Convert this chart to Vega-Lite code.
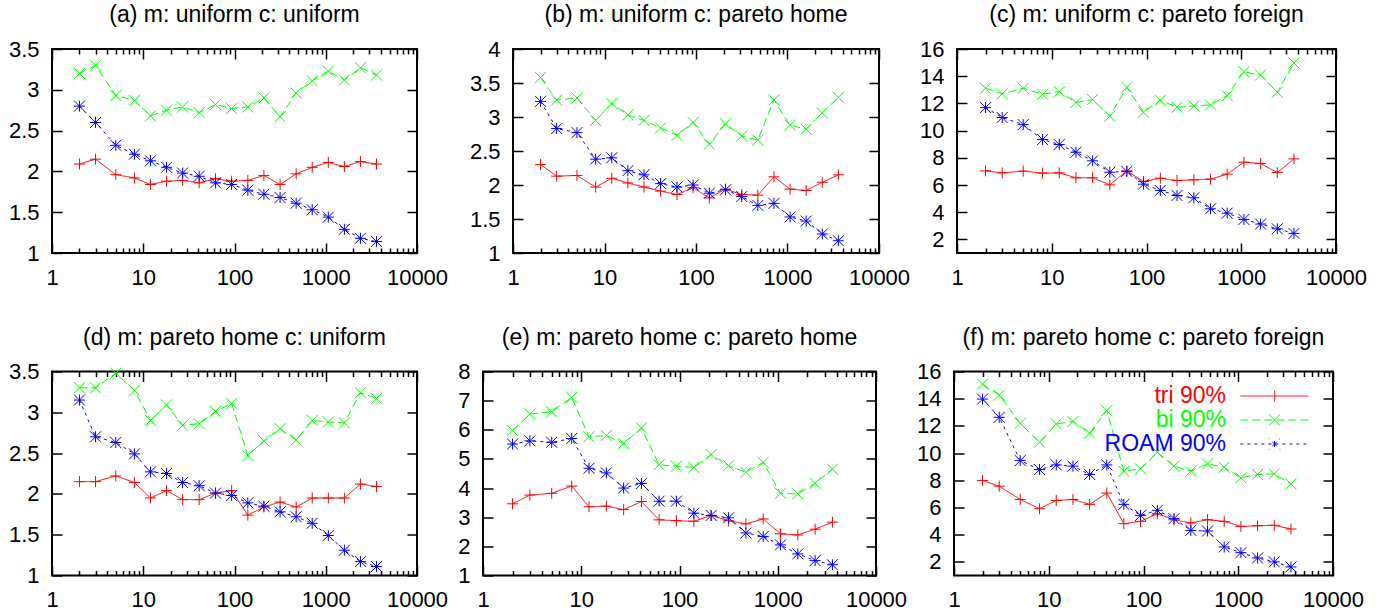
{
"$schema": "https://vega.github.io/schema/vega-lite/v6.json",
"padding": {"left": 7, "top": 3, "right": 5, "bottom": 5},
"background": "#ffffff",
"datasets": {"pts": [
{"panel":"a","series":"tri 90%","n":2,"v":2.09},{"panel":"a","series":"tri 90%","n":3,"v":2.15},{"panel":"a","series":"tri 90%","n":5,"v":1.96},{"panel":"a","series":"tri 90%","n":8,"v":1.92},{"panel":"a","series":"tri 90%","n":12,"v":1.84},{"panel":"a","series":"tri 90%","n":18,"v":1.88},{"panel":"a","series":"tri 90%","n":27,"v":1.89},{"panel":"a","series":"tri 90%","n":41,"v":1.86},{"panel":"a","series":"tri 90%","n":62,"v":1.91},{"panel":"a","series":"tri 90%","n":93,"v":1.88},{"panel":"a","series":"tri 90%","n":140,"v":1.89},{"panel":"a","series":"tri 90%","n":210,"v":1.95},{"panel":"a","series":"tri 90%","n":316,"v":1.84},{"panel":"a","series":"tri 90%","n":474,"v":1.97},{"panel":"a","series":"tri 90%","n":711,"v":2.05},{"panel":"a","series":"tri 90%","n":1067,"v":2.11},{"panel":"a","series":"tri 90%","n":1600,"v":2.06},{"panel":"a","series":"tri 90%","n":2400,"v":2.12},{"panel":"a","series":"tri 90%","n":3600,"v":2.09},
{"panel":"a","series":"bi 90%","n":2,"v":3.20},{"panel":"a","series":"bi 90%","n":3,"v":3.30},{"panel":"a","series":"bi 90%","n":5,"v":2.93},{"panel":"a","series":"bi 90%","n":8,"v":2.87},{"panel":"a","series":"bi 90%","n":12,"v":2.68},{"panel":"a","series":"bi 90%","n":18,"v":2.75},{"panel":"a","series":"bi 90%","n":27,"v":2.79},{"panel":"a","series":"bi 90%","n":41,"v":2.72},{"panel":"a","series":"bi 90%","n":62,"v":2.82},{"panel":"a","series":"bi 90%","n":93,"v":2.77},{"panel":"a","series":"bi 90%","n":140,"v":2.79},{"panel":"a","series":"bi 90%","n":210,"v":2.90},{"panel":"a","series":"bi 90%","n":316,"v":2.67},{"panel":"a","series":"bi 90%","n":474,"v":2.96},{"panel":"a","series":"bi 90%","n":711,"v":3.11},{"panel":"a","series":"bi 90%","n":1067,"v":3.23},{"panel":"a","series":"bi 90%","n":1600,"v":3.12},{"panel":"a","series":"bi 90%","n":2400,"v":3.27},{"panel":"a","series":"bi 90%","n":3600,"v":3.18},
{"panel":"a","series":"ROAM 90%","n":2,"v":2.80},{"panel":"a","series":"ROAM 90%","n":3,"v":2.60},{"panel":"a","series":"ROAM 90%","n":5,"v":2.32},{"panel":"a","series":"ROAM 90%","n":8,"v":2.21},{"panel":"a","series":"ROAM 90%","n":12,"v":2.13},{"panel":"a","series":"ROAM 90%","n":18,"v":2.05},{"panel":"a","series":"ROAM 90%","n":27,"v":1.98},{"panel":"a","series":"ROAM 90%","n":41,"v":1.94},{"panel":"a","series":"ROAM 90%","n":62,"v":1.86},{"panel":"a","series":"ROAM 90%","n":93,"v":1.84},{"panel":"a","series":"ROAM 90%","n":140,"v":1.77},{"panel":"a","series":"ROAM 90%","n":210,"v":1.72},{"panel":"a","series":"ROAM 90%","n":316,"v":1.68},{"panel":"a","series":"ROAM 90%","n":474,"v":1.61},{"panel":"a","series":"ROAM 90%","n":711,"v":1.53},{"panel":"a","series":"ROAM 90%","n":1067,"v":1.44},{"panel":"a","series":"ROAM 90%","n":1600,"v":1.29},{"panel":"a","series":"ROAM 90%","n":2400,"v":1.18},{"panel":"a","series":"ROAM 90%","n":3600,"v":1.14},
{"panel":"b","series":"tri 90%","n":2,"v":2.30},{"panel":"b","series":"tri 90%","n":3,"v":2.13},{"panel":"b","series":"tri 90%","n":5,"v":2.14},{"panel":"b","series":"tri 90%","n":8,"v":1.97},{"panel":"b","series":"tri 90%","n":12,"v":2.10},{"panel":"b","series":"tri 90%","n":18,"v":2.03},{"panel":"b","series":"tri 90%","n":27,"v":1.97},{"panel":"b","series":"tri 90%","n":41,"v":1.91},{"panel":"b","series":"tri 90%","n":62,"v":1.86},{"panel":"b","series":"tri 90%","n":93,"v":1.96},{"panel":"b","series":"tri 90%","n":140,"v":1.81},{"panel":"b","series":"tri 90%","n":210,"v":1.94},{"panel":"b","series":"tri 90%","n":316,"v":1.86},{"panel":"b","series":"tri 90%","n":474,"v":1.85},{"panel":"b","series":"tri 90%","n":711,"v":2.12},{"panel":"b","series":"tri 90%","n":1067,"v":1.94},{"panel":"b","series":"tri 90%","n":1600,"v":1.92},{"panel":"b","series":"tri 90%","n":2400,"v":2.04},{"panel":"b","series":"tri 90%","n":3600,"v":2.15},
{"panel":"b","series":"bi 90%","n":2,"v":3.58},{"panel":"b","series":"bi 90%","n":3,"v":3.25},{"panel":"b","series":"bi 90%","n":5,"v":3.28},{"panel":"b","series":"bi 90%","n":8,"v":2.95},{"panel":"b","series":"bi 90%","n":12,"v":3.20},{"panel":"b","series":"bi 90%","n":18,"v":3.03},{"panel":"b","series":"bi 90%","n":27,"v":2.95},{"panel":"b","series":"bi 90%","n":41,"v":2.84},{"panel":"b","series":"bi 90%","n":62,"v":2.73},{"panel":"b","series":"bi 90%","n":93,"v":2.92},{"panel":"b","series":"bi 90%","n":140,"v":2.60},{"panel":"b","series":"bi 90%","n":210,"v":2.90},{"panel":"b","series":"bi 90%","n":316,"v":2.72},{"panel":"b","series":"bi 90%","n":474,"v":2.66},{"panel":"b","series":"bi 90%","n":711,"v":3.25},{"panel":"b","series":"bi 90%","n":1067,"v":2.88},{"panel":"b","series":"bi 90%","n":1600,"v":2.82},{"panel":"b","series":"bi 90%","n":2400,"v":3.06},{"panel":"b","series":"bi 90%","n":3600,"v":3.29},
{"panel":"b","series":"ROAM 90%","n":2,"v":3.23},{"panel":"b","series":"ROAM 90%","n":3,"v":2.83},{"panel":"b","series":"ROAM 90%","n":5,"v":2.77},{"panel":"b","series":"ROAM 90%","n":8,"v":2.38},{"panel":"b","series":"ROAM 90%","n":12,"v":2.40},{"panel":"b","series":"ROAM 90%","n":18,"v":2.21},{"panel":"b","series":"ROAM 90%","n":27,"v":2.15},{"panel":"b","series":"ROAM 90%","n":41,"v":2.02},{"panel":"b","series":"ROAM 90%","n":62,"v":1.97},{"panel":"b","series":"ROAM 90%","n":93,"v":2.00},{"panel":"b","series":"ROAM 90%","n":140,"v":1.88},{"panel":"b","series":"ROAM 90%","n":210,"v":1.93},{"panel":"b","series":"ROAM 90%","n":316,"v":1.83},{"panel":"b","series":"ROAM 90%","n":474,"v":1.70},{"panel":"b","series":"ROAM 90%","n":711,"v":1.73},{"panel":"b","series":"ROAM 90%","n":1067,"v":1.53},{"panel":"b","series":"ROAM 90%","n":1600,"v":1.47},{"panel":"b","series":"ROAM 90%","n":2400,"v":1.28},{"panel":"b","series":"ROAM 90%","n":3600,"v":1.18},
{"panel":"c","series":"tri 90%","n":2,"v":7.04},{"panel":"c","series":"tri 90%","n":3,"v":6.89},{"panel":"c","series":"tri 90%","n":5,"v":7.02},{"panel":"c","series":"tri 90%","n":8,"v":6.87},{"panel":"c","series":"tri 90%","n":12,"v":6.89},{"panel":"c","series":"tri 90%","n":18,"v":6.53},{"panel":"c","series":"tri 90%","n":27,"v":6.53},{"panel":"c","series":"tri 90%","n":41,"v":6.01},{"panel":"c","series":"tri 90%","n":62,"v":7.04},{"panel":"c","series":"tri 90%","n":93,"v":6.26},{"panel":"c","series":"tri 90%","n":140,"v":6.50},{"panel":"c","series":"tri 90%","n":210,"v":6.33},{"panel":"c","series":"tri 90%","n":316,"v":6.38},{"panel":"c","series":"tri 90%","n":474,"v":6.43},{"panel":"c","series":"tri 90%","n":711,"v":6.80},{"panel":"c","series":"tri 90%","n":1067,"v":7.68},{"panel":"c","series":"tri 90%","n":1600,"v":7.58},{"panel":"c","series":"tri 90%","n":2400,"v":6.92},{"panel":"c","series":"tri 90%","n":3600,"v":7.92},
{"panel":"c","series":"bi 90%","n":2,"v":13.11},{"panel":"c","series":"bi 90%","n":3,"v":12.70},{"panel":"c","series":"bi 90%","n":5,"v":13.11},{"panel":"c","series":"bi 90%","n":8,"v":12.67},{"panel":"c","series":"bi 90%","n":12,"v":12.87},{"panel":"c","series":"bi 90%","n":18,"v":12.06},{"panel":"c","series":"bi 90%","n":27,"v":12.28},{"panel":"c","series":"bi 90%","n":41,"v":11.06},{"panel":"c","series":"bi 90%","n":62,"v":13.18},{"panel":"c","series":"bi 90%","n":93,"v":11.35},{"panel":"c","series":"bi 90%","n":140,"v":12.23},{"panel":"c","series":"bi 90%","n":210,"v":11.72},{"panel":"c","series":"bi 90%","n":316,"v":11.81},{"panel":"c","series":"bi 90%","n":474,"v":11.89},{"panel":"c","series":"bi 90%","n":711,"v":12.57},{"panel":"c","series":"bi 90%","n":1067,"v":14.33},{"panel":"c","series":"bi 90%","n":1600,"v":14.09},{"panel":"c","series":"bi 90%","n":2400,"v":12.82},{"panel":"c","series":"bi 90%","n":3600,"v":14.97},
{"panel":"c","series":"ROAM 90%","n":2,"v":11.69},{"panel":"c","series":"ROAM 90%","n":3,"v":10.96},{"panel":"c","series":"ROAM 90%","n":5,"v":10.44},{"panel":"c","series":"ROAM 90%","n":8,"v":9.34},{"panel":"c","series":"ROAM 90%","n":12,"v":8.98},{"panel":"c","series":"ROAM 90%","n":18,"v":8.41},{"panel":"c","series":"ROAM 90%","n":27,"v":7.78},{"panel":"c","series":"ROAM 90%","n":41,"v":6.94},{"panel":"c","series":"ROAM 90%","n":62,"v":7.00},{"panel":"c","series":"ROAM 90%","n":93,"v":6.06},{"panel":"c","series":"ROAM 90%","n":140,"v":5.60},{"panel":"c","series":"ROAM 90%","n":210,"v":5.23},{"panel":"c","series":"ROAM 90%","n":316,"v":5.06},{"panel":"c","series":"ROAM 90%","n":474,"v":4.25},{"panel":"c","series":"ROAM 90%","n":711,"v":3.93},{"panel":"c","series":"ROAM 90%","n":1067,"v":3.47},{"panel":"c","series":"ROAM 90%","n":1600,"v":3.13},{"panel":"c","series":"ROAM 90%","n":2400,"v":2.78},{"panel":"c","series":"ROAM 90%","n":3600,"v":2.44},
{"panel":"d","series":"tri 90%","n":2,"v":2.15},{"panel":"d","series":"tri 90%","n":3,"v":2.15},{"panel":"d","series":"tri 90%","n":5,"v":2.22},{"panel":"d","series":"tri 90%","n":8,"v":2.14},{"panel":"d","series":"tri 90%","n":12,"v":1.95},{"panel":"d","series":"tri 90%","n":18,"v":2.04},{"panel":"d","series":"tri 90%","n":27,"v":1.93},{"panel":"d","series":"tri 90%","n":41,"v":1.93},{"panel":"d","series":"tri 90%","n":62,"v":2.01},{"panel":"d","series":"tri 90%","n":93,"v":2.04},{"panel":"d","series":"tri 90%","n":140,"v":1.74},{"panel":"d","series":"tri 90%","n":210,"v":1.84},{"panel":"d","series":"tri 90%","n":316,"v":1.90},{"panel":"d","series":"tri 90%","n":474,"v":1.84},{"panel":"d","series":"tri 90%","n":711,"v":1.95},{"panel":"d","series":"tri 90%","n":1067,"v":1.95},{"panel":"d","series":"tri 90%","n":1600,"v":1.95},{"panel":"d","series":"tri 90%","n":2400,"v":2.12},{"panel":"d","series":"tri 90%","n":3600,"v":2.09},
{"panel":"d","series":"bi 90%","n":2,"v":3.30},{"panel":"d","series":"bi 90%","n":3,"v":3.30},{"panel":"d","series":"bi 90%","n":5,"v":3.48},{"panel":"d","series":"bi 90%","n":8,"v":3.27},{"panel":"d","series":"bi 90%","n":12,"v":2.90},{"panel":"d","series":"bi 90%","n":18,"v":3.09},{"panel":"d","series":"bi 90%","n":27,"v":2.84},{"panel":"d","series":"bi 90%","n":41,"v":2.86},{"panel":"d","series":"bi 90%","n":62,"v":3.01},{"panel":"d","series":"bi 90%","n":93,"v":3.11},{"panel":"d","series":"bi 90%","n":140,"v":2.47},{"panel":"d","series":"bi 90%","n":210,"v":2.65},{"panel":"d","series":"bi 90%","n":316,"v":2.80},{"panel":"d","series":"bi 90%","n":474,"v":2.66},{"panel":"d","series":"bi 90%","n":711,"v":2.90},{"panel":"d","series":"bi 90%","n":1067,"v":2.88},{"panel":"d","series":"bi 90%","n":1600,"v":2.87},{"panel":"d","series":"bi 90%","n":2400,"v":3.24},{"panel":"d","series":"bi 90%","n":3600,"v":3.17},
{"panel":"d","series":"ROAM 90%","n":2,"v":3.15},{"panel":"d","series":"ROAM 90%","n":3,"v":2.70},{"panel":"d","series":"ROAM 90%","n":5,"v":2.63},{"panel":"d","series":"ROAM 90%","n":8,"v":2.49},{"panel":"d","series":"ROAM 90%","n":12,"v":2.27},{"panel":"d","series":"ROAM 90%","n":18,"v":2.25},{"panel":"d","series":"ROAM 90%","n":27,"v":2.14},{"panel":"d","series":"ROAM 90%","n":41,"v":2.10},{"panel":"d","series":"ROAM 90%","n":62,"v":2.01},{"panel":"d","series":"ROAM 90%","n":93,"v":1.98},{"panel":"d","series":"ROAM 90%","n":140,"v":1.89},{"panel":"d","series":"ROAM 90%","n":210,"v":1.85},{"panel":"d","series":"ROAM 90%","n":316,"v":1.78},{"panel":"d","series":"ROAM 90%","n":474,"v":1.72},{"panel":"d","series":"ROAM 90%","n":711,"v":1.64},{"panel":"d","series":"ROAM 90%","n":1067,"v":1.49},{"panel":"d","series":"ROAM 90%","n":1600,"v":1.31},{"panel":"d","series":"ROAM 90%","n":2400,"v":1.17},{"panel":"d","series":"ROAM 90%","n":3600,"v":1.11},
{"panel":"e","series":"tri 90%","n":2,"v":3.46},{"panel":"e","series":"tri 90%","n":3,"v":3.76},{"panel":"e","series":"tri 90%","n":5,"v":3.82},{"panel":"e","series":"tri 90%","n":8,"v":4.07},{"panel":"e","series":"tri 90%","n":12,"v":3.36},{"panel":"e","series":"tri 90%","n":18,"v":3.38},{"panel":"e","series":"tri 90%","n":27,"v":3.26},{"panel":"e","series":"tri 90%","n":41,"v":3.54},{"panel":"e","series":"tri 90%","n":62,"v":2.91},{"panel":"e","series":"tri 90%","n":93,"v":2.88},{"panel":"e","series":"tri 90%","n":140,"v":2.86},{"panel":"e","series":"tri 90%","n":210,"v":3.06},{"panel":"e","series":"tri 90%","n":316,"v":2.88},{"panel":"e","series":"tri 90%","n":474,"v":2.77},{"panel":"e","series":"tri 90%","n":711,"v":2.94},{"panel":"e","series":"tri 90%","n":1067,"v":2.43},{"panel":"e","series":"tri 90%","n":1600,"v":2.39},{"panel":"e","series":"tri 90%","n":2400,"v":2.59},{"panel":"e","series":"tri 90%","n":3600,"v":2.83},
{"panel":"e","series":"bi 90%","n":2,"v":5.97},{"panel":"e","series":"bi 90%","n":3,"v":6.54},{"panel":"e","series":"bi 90%","n":5,"v":6.62},{"panel":"e","series":"bi 90%","n":8,"v":7.11},{"panel":"e","series":"bi 90%","n":12,"v":5.76},{"panel":"e","series":"bi 90%","n":18,"v":5.80},{"panel":"e","series":"bi 90%","n":27,"v":5.53},{"panel":"e","series":"bi 90%","n":41,"v":6.06},{"panel":"e","series":"bi 90%","n":62,"v":4.80},{"panel":"e","series":"bi 90%","n":93,"v":4.75},{"panel":"e","series":"bi 90%","n":140,"v":4.71},{"panel":"e","series":"bi 90%","n":210,"v":5.15},{"panel":"e","series":"bi 90%","n":316,"v":4.77},{"panel":"e","series":"bi 90%","n":474,"v":4.54},{"panel":"e","series":"bi 90%","n":711,"v":4.88},{"panel":"e","series":"bi 90%","n":1067,"v":3.82},{"panel":"e","series":"bi 90%","n":1600,"v":3.80},{"panel":"e","series":"bi 90%","n":2400,"v":4.16},{"panel":"e","series":"bi 90%","n":3600,"v":4.65},
{"panel":"e","series":"ROAM 90%","n":2,"v":5.51},{"panel":"e","series":"ROAM 90%","n":3,"v":5.62},{"panel":"e","series":"ROAM 90%","n":5,"v":5.57},{"panel":"e","series":"ROAM 90%","n":8,"v":5.70},{"panel":"e","series":"ROAM 90%","n":12,"v":4.68},{"panel":"e","series":"ROAM 90%","n":18,"v":4.52},{"panel":"e","series":"ROAM 90%","n":27,"v":4.00},{"panel":"e","series":"ROAM 90%","n":41,"v":4.16},{"panel":"e","series":"ROAM 90%","n":62,"v":3.55},{"panel":"e","series":"ROAM 90%","n":93,"v":3.55},{"panel":"e","series":"ROAM 90%","n":140,"v":3.14},{"panel":"e","series":"ROAM 90%","n":210,"v":3.06},{"panel":"e","series":"ROAM 90%","n":316,"v":2.98},{"panel":"e","series":"ROAM 90%","n":474,"v":2.46},{"panel":"e","series":"ROAM 90%","n":711,"v":2.34},{"panel":"e","series":"ROAM 90%","n":1067,"v":2.05},{"panel":"e","series":"ROAM 90%","n":1600,"v":1.74},{"panel":"e","series":"ROAM 90%","n":2400,"v":1.51},{"panel":"e","series":"ROAM 90%","n":3600,"v":1.37},
{"panel":"f","series":"tri 90%","n":2,"v":7.99},{"panel":"f","series":"tri 90%","n":3,"v":7.57},{"panel":"f","series":"tri 90%","n":5,"v":6.59},{"panel":"f","series":"tri 90%","n":8,"v":5.91},{"panel":"f","series":"tri 90%","n":12,"v":6.52},{"panel":"f","series":"tri 90%","n":18,"v":6.59},{"panel":"f","series":"tri 90%","n":27,"v":6.23},{"panel":"f","series":"tri 90%","n":41,"v":7.06},{"panel":"f","series":"tri 90%","n":62,"v":4.81},{"panel":"f","series":"tri 90%","n":93,"v":4.98},{"panel":"f","series":"tri 90%","n":140,"v":5.54},{"panel":"f","series":"tri 90%","n":210,"v":5.10},{"panel":"f","series":"tri 90%","n":316,"v":4.86},{"panel":"f","series":"tri 90%","n":474,"v":5.10},{"panel":"f","series":"tri 90%","n":711,"v":4.98},{"panel":"f","series":"tri 90%","n":1067,"v":4.61},{"panel":"f","series":"tri 90%","n":1600,"v":4.66},{"panel":"f","series":"tri 90%","n":2400,"v":4.69},{"panel":"f","series":"tri 90%","n":3600,"v":4.42},
{"panel":"f","series":"bi 90%","n":2,"v":15.07},{"panel":"f","series":"bi 90%","n":3,"v":14.26},{"panel":"f","series":"bi 90%","n":5,"v":12.19},{"panel":"f","series":"bi 90%","n":8,"v":10.80},{"panel":"f","series":"bi 90%","n":12,"v":12.14},{"panel":"f","series":"bi 90%","n":18,"v":12.33},{"panel":"f","series":"bi 90%","n":27,"v":11.46},{"panel":"f","series":"bi 90%","n":41,"v":13.12},{"panel":"f","series":"bi 90%","n":62,"v":8.67},{"panel":"f","series":"bi 90%","n":93,"v":8.84},{"panel":"f","series":"bi 90%","n":140,"v":10.06},{"panel":"f","series":"bi 90%","n":210,"v":9.04},{"panel":"f","series":"bi 90%","n":316,"v":8.67},{"panel":"f","series":"bi 90%","n":474,"v":9.21},{"panel":"f","series":"bi 90%","n":711,"v":8.96},{"panel":"f","series":"bi 90%","n":1067,"v":8.18},{"panel":"f","series":"bi 90%","n":1600,"v":8.43},{"panel":"f","series":"bi 90%","n":2400,"v":8.47},{"panel":"f","series":"bi 90%","n":3600,"v":7.74},
{"panel":"f","series":"ROAM 90%","n":2,"v":13.97},{"panel":"f","series":"ROAM 90%","n":3,"v":12.63},{"panel":"f","series":"ROAM 90%","n":5,"v":9.45},{"panel":"f","series":"ROAM 90%","n":8,"v":8.79},{"panel":"f","series":"ROAM 90%","n":12,"v":9.13},{"panel":"f","series":"ROAM 90%","n":18,"v":9.04},{"panel":"f","series":"ROAM 90%","n":27,"v":8.43},{"panel":"f","series":"ROAM 90%","n":41,"v":9.13},{"panel":"f","series":"ROAM 90%","n":62,"v":6.23},{"panel":"f","series":"ROAM 90%","n":93,"v":5.42},{"panel":"f","series":"ROAM 90%","n":140,"v":5.79},{"panel":"f","series":"ROAM 90%","n":210,"v":5.18},{"panel":"f","series":"ROAM 90%","n":316,"v":4.32},{"panel":"f","series":"ROAM 90%","n":474,"v":4.27},{"panel":"f","series":"ROAM 90%","n":711,"v":3.10},{"panel":"f","series":"ROAM 90%","n":1067,"v":2.68},{"panel":"f","series":"ROAM 90%","n":1600,"v":2.29},{"panel":"f","series":"ROAM 90%","n":2400,"v":2.00},{"panel":"f","series":"ROAM 90%","n":3600,"v":1.63}
]},
"data": {"name": "pts"},
"spacing": 31.5,
"resolve": {"scale": {"color": "independent"}},
"vconcat": [
{"hconcat": [
{"title": "(a) m: uniform c: uniform", "width": 365, "height": 204,
 "transform": [{"filter": "datum.panel === 'a'"}],
 "layer": [
  {"mark": {"type": "line", "strokeWidth": 1},
   "encoding": {
    "x": {"field": "n", "type": "quantitative", "scale": {"type": "log", "domain": [1, 10000], "nice": false}, "axis": {"orient": "bottom", "title": null, "values": [1,2,3,4,5,6,7,8,9,10,20,30,40,50,60,70,80,90,100,200,300,400,500,600,700,800,900,1000,2000,3000,4000,5000,6000,7000,8000,9000,10000], "tickSize": {"condition": {"test": "datum.value==1||datum.value==10||datum.value==100||datum.value==1000||datum.value==10000", "value": -10}, "value": -5}, "labelExpr": "(datum.value==1||datum.value==10||datum.value==100||datum.value==1000||datum.value==10000) ? format(datum.value, 'd') : ''", "labelPadding": 24}},
    "y": {"field": "v", "type": "quantitative", "scale": {"domain": [1, 3.5], "nice": false, "zero": false}, "axis": {"orient": "left", "title": null, "values": [1,1.5,2,2.5,3,3.5], "tickSize": -10, "labelPadding": 23, "format": "~g"}},
    "color": {"field": "series", "type": "nominal", "scale": {"domain": ["tri 90%", "bi 90%", "ROAM 90%"], "range": ["#ff0000", "#00ff00", "#0000ff"]}, "legend": null},
    "strokeDash": {"field": "series", "type": "nominal", "scale": {"domain": ["tri 90%", "bi 90%", "ROAM 90%"], "range": [[1,0],[8,4],[3,4]]}, "legend": null}
   }},
  {"mark": {"type": "point", "filled": false, "size": 121, "strokeWidth": 1, "opacity": 1},
   "encoding": {
    "x": {"field": "n", "type": "quantitative", "scale": {"type": "log", "domain": [1, 10000], "nice": false}, "axis": {"orient": "top", "title": null, "labels": false, "values": [1,2,3,4,5,6,7,8,9,10,20,30,40,50,60,70,80,90,100,200,300,400,500,600,700,800,900,1000,2000,3000,4000,5000,6000,7000,8000,9000,10000], "tickSize": {"condition": {"test": "datum.value==1||datum.value==10||datum.value==100||datum.value==1000||datum.value==10000", "value": -10}, "value": -5}}},
    "y": {"field": "v", "type": "quantitative", "scale": {"domain": [1, 3.5], "nice": false, "zero": false}, "axis": {"orient": "right", "title": null, "labels": false, "values": [1,1.5,2,2.5,3,3.5], "tickSize": -10}},
    "color": {"field": "series", "type": "nominal", "scale": {"domain": ["tri 90%", "bi 90%", "ROAM 90%"], "range": ["#ff0000", "#00ff00", "#0000ff"]}, "legend": null},
    "shape": {"field": "series", "type": "nominal", "scale": {"domain": ["tri 90%", "bi 90%", "ROAM 90%"], "range": ["M-1,0H1M0,-1V1", "M-1,-1L1,1M-1,1L1,-1", "M-1,0H1M0,-1V1M-1,-1L1,1M-1,1L1,-1"]}, "legend": null}
   }}
 ],
 "resolve": {"axis": {"x": "independent", "y": "independent"}}
},
{"title": "(b) m: uniform c: pareto home", "width": 366, "height": 204,
 "transform": [{"filter": "datum.panel === 'b'"}],
 "layer": [
  {"mark": {"type": "line", "strokeWidth": 1},
   "encoding": {
    "x": {"field": "n", "type": "quantitative", "scale": {"type": "log", "domain": [1, 10000], "nice": false}, "axis": {"orient": "bottom", "title": null, "values": [1,2,3,4,5,6,7,8,9,10,20,30,40,50,60,70,80,90,100,200,300,400,500,600,700,800,900,1000,2000,3000,4000,5000,6000,7000,8000,9000,10000], "tickSize": {"condition": {"test": "datum.value==1||datum.value==10||datum.value==100||datum.value==1000||datum.value==10000", "value": -10}, "value": -5}, "labelExpr": "(datum.value==1||datum.value==10||datum.value==100||datum.value==1000||datum.value==10000) ? format(datum.value, 'd') : ''", "labelPadding": 24}},
    "y": {"field": "v", "type": "quantitative", "scale": {"domain": [1, 4], "nice": false, "zero": false}, "axis": {"orient": "left", "title": null, "values": [1,1.5,2,2.5,3,3.5,4], "tickSize": -10, "labelPadding": 23, "format": "~g", "minExtent": 56}},
    "color": {"field": "series", "type": "nominal", "scale": {"domain": ["tri 90%", "bi 90%", "ROAM 90%"], "range": ["#ff0000", "#00ff00", "#0000ff"]}, "legend": null},
    "strokeDash": {"field": "series", "type": "nominal", "scale": {"domain": ["tri 90%", "bi 90%", "ROAM 90%"], "range": [[1,0],[8,4],[3,4]]}, "legend": null}
   }},
  {"mark": {"type": "point", "filled": false, "size": 121, "strokeWidth": 1, "opacity": 1},
   "encoding": {
    "x": {"field": "n", "type": "quantitative", "scale": {"type": "log", "domain": [1, 10000], "nice": false}, "axis": {"orient": "top", "title": null, "labels": false, "values": [1,2,3,4,5,6,7,8,9,10,20,30,40,50,60,70,80,90,100,200,300,400,500,600,700,800,900,1000,2000,3000,4000,5000,6000,7000,8000,9000,10000], "tickSize": {"condition": {"test": "datum.value==1||datum.value==10||datum.value==100||datum.value==1000||datum.value==10000", "value": -10}, "value": -5}}},
    "y": {"field": "v", "type": "quantitative", "scale": {"domain": [1, 4], "nice": false, "zero": false}, "axis": {"orient": "right", "title": null, "labels": false, "values": [1,1.5,2,2.5,3,3.5,4], "tickSize": -10}},
    "color": {"field": "series", "type": "nominal", "scale": {"domain": ["tri 90%", "bi 90%", "ROAM 90%"], "range": ["#ff0000", "#00ff00", "#0000ff"]}, "legend": null},
    "shape": {"field": "series", "type": "nominal", "scale": {"domain": ["tri 90%", "bi 90%", "ROAM 90%"], "range": ["M-1,0H1M0,-1V1", "M-1,-1L1,1M-1,1L1,-1", "M-1,0H1M0,-1V1M-1,-1L1,1M-1,1L1,-1"]}, "legend": null}
   }}
 ],
 "resolve": {"axis": {"x": "independent", "y": "independent"}}
},
{"title": "(c) m: uniform c: pareto foreign", "width": 379, "height": 204,
 "transform": [{"filter": "datum.panel === 'c'"}],
 "layer": [
  {"mark": {"type": "line", "strokeWidth": 1},
   "encoding": {
    "x": {"field": "n", "type": "quantitative", "scale": {"type": "log", "domain": [1, 10000], "nice": false}, "axis": {"orient": "bottom", "title": null, "values": [1,2,3,4,5,6,7,8,9,10,20,30,40,50,60,70,80,90,100,200,300,400,500,600,700,800,900,1000,2000,3000,4000,5000,6000,7000,8000,9000,10000], "tickSize": {"condition": {"test": "datum.value==1||datum.value==10||datum.value==100||datum.value==1000||datum.value==10000", "value": -10}, "value": -5}, "labelExpr": "(datum.value==1||datum.value==10||datum.value==100||datum.value==1000||datum.value==10000) ? format(datum.value, 'd') : ''", "labelPadding": 24}},
    "y": {"field": "v", "type": "quantitative", "scale": {"domain": [1, 16], "nice": false, "zero": false}, "axis": {"orient": "left", "title": null, "values": [2,4,6,8,10,12,14,16], "tickSize": -10, "labelPadding": 23, "format": "~g"}},
    "color": {"field": "series", "type": "nominal", "scale": {"domain": ["tri 90%", "bi 90%", "ROAM 90%"], "range": ["#ff0000", "#00ff00", "#0000ff"]}, "legend": null},
    "strokeDash": {"field": "series", "type": "nominal", "scale": {"domain": ["tri 90%", "bi 90%", "ROAM 90%"], "range": [[1,0],[8,4],[3,4]]}, "legend": null}
   }},
  {"mark": {"type": "point", "filled": false, "size": 121, "strokeWidth": 1, "opacity": 1},
   "encoding": {
    "x": {"field": "n", "type": "quantitative", "scale": {"type": "log", "domain": [1, 10000], "nice": false}, "axis": {"orient": "top", "title": null, "labels": false, "values": [1,2,3,4,5,6,7,8,9,10,20,30,40,50,60,70,80,90,100,200,300,400,500,600,700,800,900,1000,2000,3000,4000,5000,6000,7000,8000,9000,10000], "tickSize": {"condition": {"test": "datum.value==1||datum.value==10||datum.value==100||datum.value==1000||datum.value==10000", "value": -10}, "value": -5}}},
    "y": {"field": "v", "type": "quantitative", "scale": {"domain": [1, 16], "nice": false, "zero": false}, "axis": {"orient": "right", "title": null, "labels": false, "values": [2,4,6,8,10,12,14,16], "tickSize": -10}},
    "color": {"field": "series", "type": "nominal", "scale": {"domain": ["tri 90%", "bi 90%", "ROAM 90%"], "range": ["#ff0000", "#00ff00", "#0000ff"]}, "legend": null},
    "shape": {"field": "series", "type": "nominal", "scale": {"domain": ["tri 90%", "bi 90%", "ROAM 90%"], "range": ["M-1,0H1M0,-1V1", "M-1,-1L1,1M-1,1L1,-1", "M-1,0H1M0,-1V1M-1,-1L1,1M-1,1L1,-1"]}, "legend": null}
   }}
 ],
 "resolve": {"axis": {"x": "independent", "y": "independent"}}
}
], "spacing": 7, "resolve": {"scale": {"color": "independent"}}},
{"hconcat": [
{"title": "(d) m: pareto home c: uniform", "width": 365, "height": 204,
 "transform": [{"filter": "datum.panel === 'd'"}],
 "layer": [
  {"mark": {"type": "line", "strokeWidth": 1},
   "encoding": {
    "x": {"field": "n", "type": "quantitative", "scale": {"type": "log", "domain": [1, 10000], "nice": false}, "axis": {"orient": "bottom", "title": null, "values": [1,2,3,4,5,6,7,8,9,10,20,30,40,50,60,70,80,90,100,200,300,400,500,600,700,800,900,1000,2000,3000,4000,5000,6000,7000,8000,9000,10000], "tickSize": {"condition": {"test": "datum.value==1||datum.value==10||datum.value==100||datum.value==1000||datum.value==10000", "value": -10}, "value": -5}, "labelExpr": "(datum.value==1||datum.value==10||datum.value==100||datum.value==1000||datum.value==10000) ? format(datum.value, 'd') : ''", "labelPadding": 24}},
    "y": {"field": "v", "type": "quantitative", "scale": {"domain": [1, 3.5], "nice": false, "zero": false}, "axis": {"orient": "left", "title": null, "values": [1,1.5,2,2.5,3,3.5], "tickSize": -10, "labelPadding": 23, "format": "~g"}},
    "color": {"field": "series", "type": "nominal", "scale": {"domain": ["tri 90%", "bi 90%", "ROAM 90%"], "range": ["#ff0000", "#00ff00", "#0000ff"]}, "legend": null},
    "strokeDash": {"field": "series", "type": "nominal", "scale": {"domain": ["tri 90%", "bi 90%", "ROAM 90%"], "range": [[1,0],[8,4],[3,4]]}, "legend": null}
   }},
  {"mark": {"type": "point", "filled": false, "size": 121, "strokeWidth": 1, "opacity": 1},
   "encoding": {
    "x": {"field": "n", "type": "quantitative", "scale": {"type": "log", "domain": [1, 10000], "nice": false}, "axis": {"orient": "top", "title": null, "labels": false, "values": [1,2,3,4,5,6,7,8,9,10,20,30,40,50,60,70,80,90,100,200,300,400,500,600,700,800,900,1000,2000,3000,4000,5000,6000,7000,8000,9000,10000], "tickSize": {"condition": {"test": "datum.value==1||datum.value==10||datum.value==100||datum.value==1000||datum.value==10000", "value": -10}, "value": -5}}},
    "y": {"field": "v", "type": "quantitative", "scale": {"domain": [1, 3.5], "nice": false, "zero": false}, "axis": {"orient": "right", "title": null, "labels": false, "values": [1,1.5,2,2.5,3,3.5], "tickSize": -10}},
    "color": {"field": "series", "type": "nominal", "scale": {"domain": ["tri 90%", "bi 90%", "ROAM 90%"], "range": ["#ff0000", "#00ff00", "#0000ff"]}, "legend": null},
    "shape": {"field": "series", "type": "nominal", "scale": {"domain": ["tri 90%", "bi 90%", "ROAM 90%"], "range": ["M-1,0H1M0,-1V1", "M-1,-1L1,1M-1,1L1,-1", "M-1,0H1M0,-1V1M-1,-1L1,1M-1,1L1,-1"]}, "legend": null}
   }}
 ],
 "resolve": {"axis": {"x": "independent", "y": "independent"}}
},
{"title": "(e) m: pareto home c: pareto home", "width": 393, "height": 204,
 "transform": [{"filter": "datum.panel === 'e'"}],
 "layer": [
  {"mark": {"type": "line", "strokeWidth": 1},
   "encoding": {
    "x": {"field": "n", "type": "quantitative", "scale": {"type": "log", "domain": [1, 10000], "nice": false}, "axis": {"orient": "bottom", "title": null, "values": [1,2,3,4,5,6,7,8,9,10,20,30,40,50,60,70,80,90,100,200,300,400,500,600,700,800,900,1000,2000,3000,4000,5000,6000,7000,8000,9000,10000], "tickSize": {"condition": {"test": "datum.value==1||datum.value==10||datum.value==100||datum.value==1000||datum.value==10000", "value": -10}, "value": -5}, "labelExpr": "(datum.value==1||datum.value==10||datum.value==100||datum.value==1000||datum.value==10000) ? format(datum.value, 'd') : ''", "labelPadding": 24}},
    "y": {"field": "v", "type": "quantitative", "scale": {"domain": [1, 8], "nice": false, "zero": false}, "axis": {"orient": "left", "title": null, "values": [1,2,3,4,5,6,7,8], "tickSize": -10, "labelPadding": 23, "format": "~g"}},
    "color": {"field": "series", "type": "nominal", "scale": {"domain": ["tri 90%", "bi 90%", "ROAM 90%"], "range": ["#ff0000", "#00ff00", "#0000ff"]}, "legend": null},
    "strokeDash": {"field": "series", "type": "nominal", "scale": {"domain": ["tri 90%", "bi 90%", "ROAM 90%"], "range": [[1,0],[8,4],[3,4]]}, "legend": null}
   }},
  {"mark": {"type": "point", "filled": false, "size": 121, "strokeWidth": 1, "opacity": 1},
   "encoding": {
    "x": {"field": "n", "type": "quantitative", "scale": {"type": "log", "domain": [1, 10000], "nice": false}, "axis": {"orient": "top", "title": null, "labels": false, "values": [1,2,3,4,5,6,7,8,9,10,20,30,40,50,60,70,80,90,100,200,300,400,500,600,700,800,900,1000,2000,3000,4000,5000,6000,7000,8000,9000,10000], "tickSize": {"condition": {"test": "datum.value==1||datum.value==10||datum.value==100||datum.value==1000||datum.value==10000", "value": -10}, "value": -5}}},
    "y": {"field": "v", "type": "quantitative", "scale": {"domain": [1, 8], "nice": false, "zero": false}, "axis": {"orient": "right", "title": null, "labels": false, "values": [1,2,3,4,5,6,7,8], "tickSize": -10}},
    "color": {"field": "series", "type": "nominal", "scale": {"domain": ["tri 90%", "bi 90%", "ROAM 90%"], "range": ["#ff0000", "#00ff00", "#0000ff"]}, "legend": null},
    "shape": {"field": "series", "type": "nominal", "scale": {"domain": ["tri 90%", "bi 90%", "ROAM 90%"], "range": ["M-1,0H1M0,-1V1", "M-1,-1L1,1M-1,1L1,-1", "M-1,0H1M0,-1V1M-1,-1L1,1M-1,1L1,-1"]}, "legend": null}
   }}
 ],
 "resolve": {"axis": {"x": "independent", "y": "independent"}}
},
{"title": "(f) m: pareto home c: pareto foreign", "width": 379, "height": 204,
 "transform": [{"filter": "datum.panel === 'f'"}],
 "layer": [
  {"mark": {"type": "line", "strokeWidth": 1},
   "encoding": {
    "x": {"field": "n", "type": "quantitative", "scale": {"type": "log", "domain": [1, 10000], "nice": false}, "axis": {"orient": "bottom", "title": null, "values": [1,2,3,4,5,6,7,8,9,10,20,30,40,50,60,70,80,90,100,200,300,400,500,600,700,800,900,1000,2000,3000,4000,5000,6000,7000,8000,9000,10000], "tickSize": {"condition": {"test": "datum.value==1||datum.value==10||datum.value==100||datum.value==1000||datum.value==10000", "value": -10}, "value": -5}, "labelExpr": "(datum.value==1||datum.value==10||datum.value==100||datum.value==1000||datum.value==10000) ? format(datum.value, 'd') : ''", "labelPadding": 24}},
    "y": {"field": "v", "type": "quantitative", "scale": {"domain": [1, 16], "nice": false, "zero": false}, "axis": {"orient": "left", "title": null, "values": [2,4,6,8,10,12,14,16], "tickSize": -10, "labelPadding": 23, "format": "~g"}},
    "color": {"field": "series", "type": "nominal", "scale": {"domain": ["tri 90%", "bi 90%", "ROAM 90%"], "range": ["#ff0000", "#00ff00", "#0000ff"]},
      "legend": {"orient": "none", "legendX": 309, "legendY": 13, "title": null, "padding": 0, "labelAlign": "right", "labelOffset": -60, "labelFontSize": 23, "labelFont": "Liberation Sans",
        "labelColor": {"expr": "datum.value === 'tri 90%' ? '#ff0000' : datum.value === 'bi 90%' ? '#00ff00' : '#0000ff'"},
        "symbolType": {"expr": "datum.value === 'tri 90%' ? 'M-6.2,0H6.2M0,-1V1' : datum.value === 'bi 90%' ? 'M-6.2,0H6.2M0,0L1,1M0,0L-1,1M0,0L1,-1M0,0L-1,-1' : 'M-6.2,0H6.2M0,0L1,1M0,0L-1,1M0,0L1,-1M0,0L-1,-1M0,0V1M0,0V-1'"},
        "symbolDash": {"expr": "datum.value === 'tri 90%' ? [1,0] : datum.value === 'bi 90%' ? [8,4] : [3,4]"},
        "symbolSize": 121, "symbolStrokeWidth": 1, "symbolOpacity": 1, "rowPadding": 0}},
    "strokeDash": {"field": "series", "type": "nominal", "scale": {"domain": ["tri 90%", "bi 90%", "ROAM 90%"], "range": [[1,0],[8,4],[3,4]]}, "legend": null}
   }},
  {"mark": {"type": "point", "filled": false, "size": 121, "strokeWidth": 1, "opacity": 1},
   "encoding": {
    "x": {"field": "n", "type": "quantitative", "scale": {"type": "log", "domain": [1, 10000], "nice": false}, "axis": {"orient": "top", "title": null, "labels": false, "values": [1,2,3,4,5,6,7,8,9,10,20,30,40,50,60,70,80,90,100,200,300,400,500,600,700,800,900,1000,2000,3000,4000,5000,6000,7000,8000,9000,10000], "tickSize": {"condition": {"test": "datum.value==1||datum.value==10||datum.value==100||datum.value==1000||datum.value==10000", "value": -10}, "value": -5}}},
    "y": {"field": "v", "type": "quantitative", "scale": {"domain": [1, 16], "nice": false, "zero": false}, "axis": {"orient": "right", "title": null, "labels": false, "values": [2,4,6,8,10,12,14,16], "tickSize": -10}},
    "color": {"field": "series", "type": "nominal", "scale": {"domain": ["tri 90%", "bi 90%", "ROAM 90%"], "range": ["#ff0000", "#00ff00", "#0000ff"]}},
    "shape": {"field": "series", "type": "nominal", "scale": {"domain": ["tri 90%", "bi 90%", "ROAM 90%"], "range": ["M-1,0H1M0,-1V1", "M-1,-1L1,1M-1,1L1,-1", "M-1,0H1M0,-1V1M-1,-1L1,1M-1,1L1,-1"]}, "legend": null}
   }}
 ],
 "resolve": {"axis": {"x": "independent", "y": "independent"}}
}
], "spacing": 7, "resolve": {"scale": {"color": "independent"}}}
],
"config": {
  "font": "Liberation Sans",
  "view": {"stroke": "#000000", "strokeWidth": 2},
  "axis": {"domain": false, "grid": false, "labelFont": "Liberation Sans", "labelFontSize": 22, "labelColor": "#000000", "tickColor": "#000000", "tickWidth": 1.5, "minExtent": 0, "labelOverlap": false, "labelFlush": false, "labelBound": false},
  "title": {"font": "Liberation Sans", "fontSize": 23, "fontWeight": "normal", "color": "#000000", "anchor": "middle", "frame": "group", "offset": 11, "baseline": "alphabetic"},
  "legend": {"labelFont": "Liberation Sans", "labelFontSize": 23}
}
}
